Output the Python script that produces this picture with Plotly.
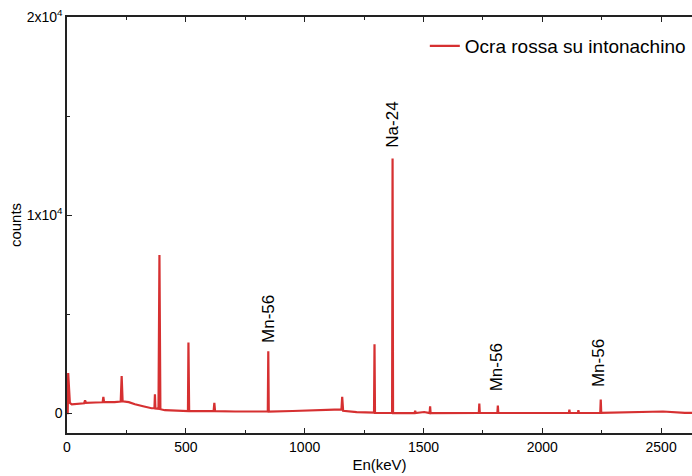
import plotly.graph_objects as go

# Spectrum polyline (energy in keV, counts)
energy = [0, 3, 5, 8, 12, 20, 40, 72, 76, 80, 120, 150, 153, 156, 200, 226, 230, 234,
          260, 286, 320, 356, 368, 370, 372, 385, 389, 393, 412, 450, 509, 511, 514,
          560, 617, 620, 623, 707, 800, 845, 847, 849, 950, 1023, 1120, 1155, 1158,
          1162, 1219, 1260, 1292, 1294, 1296, 1368, 1370, 1372, 1463, 1465, 1467,
          1503, 1526, 1528, 1530, 1733, 1735, 1737, 1811, 1813, 1815, 2112, 2114,
          2116, 2150, 2152, 2154, 2244, 2246, 2248, 2400, 2508, 2600, 2630]
counts = [0, 0, 2030, 1000, 520, 450, 480, 500, 650, 520, 540, 550, 820, 560, 560, 590, 1870, 600,
          560, 450, 350, 250, 260, 960, 240, 220, 7980, 200, 150, 120, 100, 3570, 100,
          100, 100, 520, 100, 85, 85, 85, 3130, 85, 110, 150, 185, 190, 825,
          120, 50, 40, 30, 3480, 20, 10, 12860, 5, 5, 120, 5,
          60, 5, 350, 5, 10, 490, 10, 10, 390, 10, 10, 185,
          10, 10, 150, 10, 15, 690, 15, 50, 85, 20, 15]

series_name = "Ocra rossa su intonachino"

# Peak labels
label_text = ["Mn-56", "Na-24", "Mn-56", "Mn-56"]
label_x = [845, 1368, 1808, 2236]
label_y = [4750, 14570, 2300, 2550]

x_ticks = [0, 500, 1000, 1500, 2000, 2500]
y_tickvals = [0, 10000, 20000]
y_ticktext = ["0", "1x10<sup>4</sup>", "2x10<sup>4</sup>"]

FONT = "Liberation Sans, Arial, sans-serif"
RED = "#d63031"
AX = "#222222"

fig = go.Figure()
fig.add_trace(go.Scatter(x=energy, y=counts, mode="lines", name=series_name,
                         line=dict(color=RED, width=2.2), showlegend=True))

for t, xx, yy in zip(label_text, label_x, label_y):
    fig.add_annotation(x=xx, y=yy, text=t, textangle=-90, showarrow=False,
                       font=dict(family=FONT, size=17, color="#000000"))

fig.update_layout(
    width=692, height=476,
    margin=dict(l=67, r=0, t=17, b=43),
    paper_bgcolor="white", plot_bgcolor="white",
    font=dict(family=FONT, size=14, color="#000000"),
    showlegend=True,
    legend=dict(x=0.5725, xanchor="left", y=0.93, yanchor="middle",
                bgcolor="rgba(0,0,0,0)", font=dict(family=FONT, size=19, color="#000000")),
    xaxis=dict(range=[0, 2630], tickvals=x_ticks, ticks="inside", ticklen=5, tickwidth=1.3,
               tickcolor=AX, showline=True, linecolor=AX, linewidth=1.5, mirror="ticks",
               showgrid=False, zeroline=False,
               minor=dict(dtick=250, tick0=0, ticks="inside", ticklen=3, tickcolor=AX, showgrid=False),
               title=dict(text="En(keV)", font=dict(size=15), standoff=6),
               tickfont=dict(size=14)),
    yaxis=dict(range=[-1000, 20000], tickvals=y_tickvals, ticktext=y_ticktext,
               ticks="inside", ticklen=5, tickwidth=1.3, tickcolor=AX,
               showline=True, linecolor=AX, linewidth=1.5, mirror=False,
               showgrid=False, zeroline=False,
               minor=dict(dtick=5000, tick0=0, ticks="inside", ticklen=3, tickcolor=AX, showgrid=False),
               title=dict(text="counts", font=dict(size=15), standoff=1),
               tickfont=dict(size=14)),
)

fig.write_html("out.html", config={"displayModeBar": False},
               post_script="document.body.style.margin='0';document.body.style.overflow='hidden';")
